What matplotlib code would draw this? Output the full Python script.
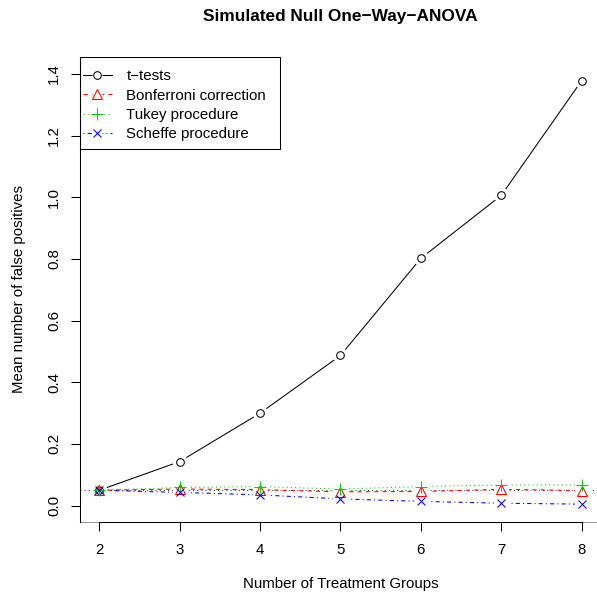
import matplotlib
matplotlib.use("Agg")
import matplotlib.pyplot as plt
from matplotlib.patches import Rectangle
from matplotlib.lines import Line2D
from matplotlib.legend_handler import HandlerTuple

# data
groups = [2, 3, 4, 5, 6, 7, 8]
ttests = [0.050, 0.143, 0.300, 0.487, 0.802, 1.006, 1.378]
bonferroni = [0.050, 0.054, 0.052, 0.045, 0.046, 0.053, 0.049]
tukey = [0.050, 0.059, 0.062, 0.054, 0.062, 0.067, 0.067]
scheffe = [0.050, 0.043, 0.035, 0.022, 0.014, 0.008, 0.005]
labels = ["t\u2212tests", "Bonferroni correction", "Tukey procedure", "Scheffe procedure"]
nominal = 0.05

plt.rcParams['font.family'] = ['Liberation Sans', 'DejaVu Sans']

W, H = 597, 595
fig = plt.figure(figsize=(W / 100, H / 100), dpi=100)

# plot region in pixels (R margins), right edge runs past the image
L, R, T, B = 80, 601, 56.7, 521.7
ax = fig.add_axes([L / W, 1 - B / H, (R - L) / W, (B - T) / H])
ax.set_xlim(1.76, 8.24)
ax.set_ylim(-0.0519, 1.4555)

def ax_x(px):
    return (px - L) / (R - L)

def ax_y(py):
    return (B - py) / (B - T)

lw = 0.75
ax.axhline(nominal, color="#444444", lw=lw, ls=(0, (1, 3)), zorder=1)

series = [
    (ttests, "black", "-", "o", 5.5),
    (bonferroni, "red", (0, (4, 4)), "^", 6.5),
    (tukey, "#00cc00", (0, (1, 3)), "+", 8.5),
    (scheffe, "blue", (0, (1, 3, 4, 3)), "x", 6.0),
]

handles = []
for vals, col, ls, mk, ms in series:
    ax.plot(groups, vals, color=col, lw=lw, ls=ls, zorder=2)
    # R type="b": blank the line around each point
    ax.plot(groups, vals, ls="none", marker="o", ms=11, mfc="white",
            mec="none", zorder=3)
    ax.plot(groups, vals, ls="none", marker=mk, ms=ms, mfc="none",
            mec=col, mew=lw, zorder=4)
    handles.append((
        Line2D([], [], color=col, lw=lw, ls=ls),
        Line2D([], [], ls="none", marker="s", ms=6.5, mfc="white", mec="none"),
        Line2D([], [], ls="none", marker=mk, ms=ms, mfc="none", mec=col, mew=lw),
    ))

ax.set_xticks(groups)
ax.set_yticks([0.0, 0.2, 0.4, 0.6, 0.8, 1.0, 1.2, 1.4])
ax.set_yticklabels(["0.0", "0.2", "0.4", "0.6", "0.8", "1.0", "1.2", "1.4"],
                   rotation=90, va="center")
ax.tick_params(axis="both", direction="out", length=6.5, width=lw,
               labelsize=10.8, color="black")
ax.tick_params(axis="x", pad=9)
ax.tick_params(axis="y", pad=7)
for s in ["top", "right"]:
    ax.spines[s].set_visible(False)
for s in ["left", "bottom"]:
    ax.spines[s].set_linewidth(lw)
ax.spines["bottom"].set_bounds(groups[0], groups[-1])
ax.axhline(ax.get_ylim()[0], color="#999999", lw=lw, zorder=0, clip_on=False)

fig.text((L + R) / 2 / W, 1 - 17 / H,
         "Simulated Null One\u2212Way\u2212ANOVA", ha="center", va="center",
         fontsize=12.4, fontweight="bold")
fig.text((L + R) / 2 / W, 1 - 584 / H, "Number of Treatment Groups",
         ha="center", va="center", fontsize=10.8)
fig.text(19 / W, 1 - 289 / H, "Mean number of false positives",
         ha="center", va="center", rotation=90, fontsize=10.8)

# legend box
ax.add_patch(Rectangle((0, ax_y(149)), ax_x(280), ax_y(56.7) - ax_y(149),
                       transform=ax.transAxes, fill=False, ec="black",
                       lw=lw, zorder=5, clip_on=False))
leg = ax.legend(handles, labels, handler_map={tuple: HandlerTuple(ndivide=1)},
                loc="upper left", bbox_to_anchor=(ax_x(83), ax_y(69.5)),
                frameon=False, borderpad=0, borderaxespad=0, fontsize=10.8,
                handlelength=1.9, handletextpad=1.0, labelspacing=0.35,
                numpoints=1)
leg.set_zorder(6)

fig.savefig("out.png", dpi=100)
